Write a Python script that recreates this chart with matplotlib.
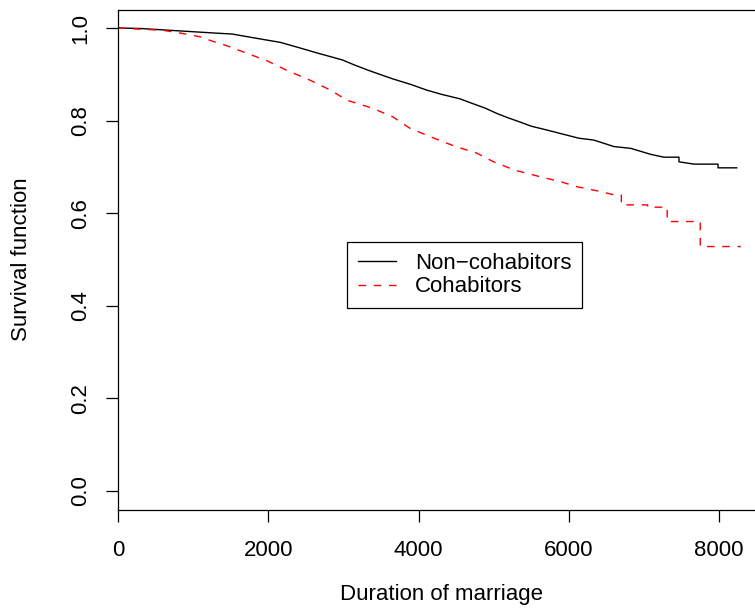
import matplotlib
matplotlib.use('Agg')
import matplotlib.pyplot as plt

plt.rcParams['font.family'] = ['Liberation Sans', 'DejaVu Sans']

# Kaplan-Meier curves (time in days).
# The many tiny steps look like a smooth line; the visible large steps in the
# tails are given as explicit corners (repeated times).
t_noncohab = [0, 300, 500, 700, 900, 1100, 1300, 1520, 1800, 2160, 2400, 2653,
              2987, 3150, 3327, 3500, 3660, 3900, 4107, 4300, 4553, 4700, 4887,
              5050, 5193, 5350, 5500, 5700, 5893, 6133, 6333, 6600, 6827, 7093,
              7267, 7467, 7467, 7667, 7987, 7987, 8236]
s_noncohab = [1.0, 0.999, 0.997, 0.995, 0.993, 0.991, 0.989, 0.987, 0.979, 0.969,
              0.958, 0.946, 0.931, 0.920, 0.909, 0.899, 0.890, 0.878, 0.866, 0.857,
              0.847, 0.838, 0.827, 0.815, 0.806, 0.797, 0.788, 0.780, 0.772, 0.762,
              0.758, 0.744, 0.740, 0.727, 0.721, 0.721, 0.711, 0.706, 0.706, 0.698,
              0.698]

t_cohab = [0, 600, 800, 1093, 1250, 1427, 1707, 1987, 2267, 2547, 2827, 3048,
           3383, 3660, 3880, 4160, 4493, 4773, 5000, 5280, 5613, 5893, 6113,
           6448, 6613, 6700, 6700, 7050, 7050, 7310, 7310, 7750, 7750, 8290]
s_cohab = [1.0, 0.995, 0.990, 0.981, 0.972, 0.963, 0.946, 0.929, 0.907, 0.888,
           0.866, 0.844, 0.827, 0.808, 0.784, 0.765, 0.744, 0.730, 0.711, 0.693,
           0.679, 0.668, 0.657, 0.646, 0.639, 0.639, 0.618, 0.618, 0.613, 0.613,
           0.582, 0.582, 0.528, 0.528]

labels = ['Non\u2212cohabitors', 'Cohabitors']
x_ticks = [0, 2000, 4000, 6000, 8000]
y_ticks = [0.0, 0.2, 0.4, 0.6, 0.8, 1.0]

W, H = 755, 608
fig = plt.figure(figsize=(W / 100, H / 100), dpi=100)
# right edge of the plot region lies just outside the picture, as in the original
ax = fig.add_axes([118 / W, (H - 509.5) / H, 647 / W, 500 / H])

ax.plot(t_noncohab, s_noncohab, color='black', lw=1.0, label=labels[0])
ax.plot(t_cohab, s_cohab, color='red', lw=1.0, dashes=(5.5, 5.5), label=labels[1])

ax.set_xlim(0, 8612)
ax.set_ylim(-0.04, 1.04)
ax.set_xticks(x_ticks)
ax.set_yticks(y_ticks)
ax.set_xticklabels([str(v) for v in x_ticks])
ax.set_yticklabels([f'{v:.1f}' for v in y_ticks], rotation=90, va='center', ha='right')

for sp in ax.spines.values():
    sp.set_linewidth(0.9)
ax.tick_params(axis='both', length=8.6, width=0.9, labelsize=16)
ax.tick_params(axis='x', pad=13)
ax.tick_params(axis='y', pad=10.5)

ax.set_xlabel('Duration of marriage', fontsize=16)
ax.set_ylabel('Survival function', fontsize=16)
ax.xaxis.set_label_coords(0.5, -(584 - 509.5) / 500)
ax.yaxis.set_label_coords(-(118 - 32) / 647, 0.5)

leg = ax.legend(loc='upper left', bbox_to_anchor=(347 / W, 1 - 242 / H),
                bbox_transform=fig.transFigure, borderaxespad=0, fontsize=16,
                fancybox=False, framealpha=1, edgecolor='black',
                handlelength=1.7, handletextpad=0.85, labelspacing=0.1,
                borderpad=0.5)
leg.get_frame().set_linewidth(0.9)

fig.savefig('out.png', dpi=100)
